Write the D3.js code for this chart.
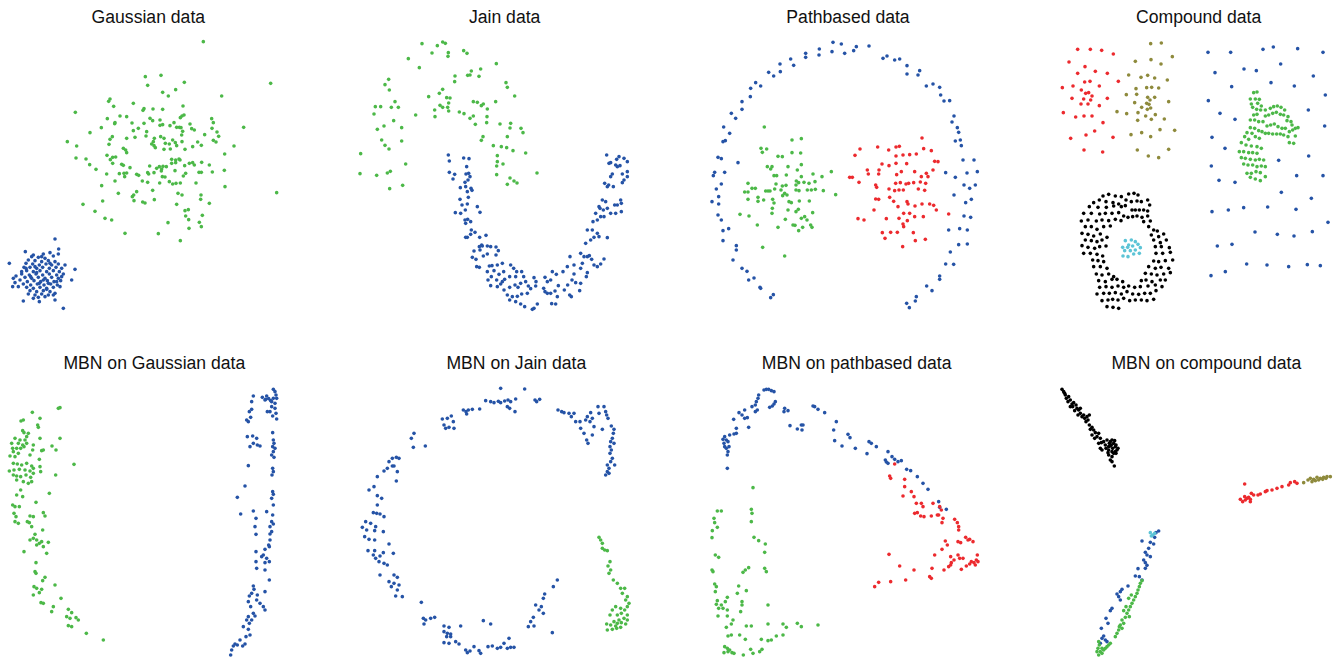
<!DOCTYPE html>
<html>
<head>
<meta charset="utf-8">
<script src="https://cdn.jsdelivr.net/npm/d3@7"></script>
<style>
  body { margin: 0; background: #fff; }
  .title { font-family: "Liberation Sans", Arial, Helvetica, sans-serif; font-size: 17.6px; fill: #111; }
</style>
</head>
<body>
<svg id="chart" width="1336" height="659"></svg>
<script>

// point coordinates are in each panel's own units (0..1002 across, 0..960 down)

var gaussGreen = [[610,125],[812,250],[436,230],[483,226],[553,247],[443,256],[488,277],[527,269],[505,288],[665,288],[330,297],[326,304],[400,310],[226,337],[341,319],[432,326],[429,331],[459,327],[488,328],[549,318],[322,356],[360,348],[380,350],[344,371],[345,368],[396,369],[450,355],[458,362],[480,360],[488,374],[480,376],[522,368],[510,377],[541,353],[546,348],[552,345],[538,382],[530,382],[543,383],[570,372],[575,386],[583,390],[635,356],[640,368],[636,385],[548,394],[545,405],[651,396],[656,409],[731,382],[270,398],[304,383],[400,392],[415,385],[432,370],[440,395],[438,408],[405,412],[380,415],[463,415],[460,425],[455,432],[462,437],[466,443],[482,410],[492,415],[496,430],[508,432],[518,420],[526,428],[530,437],[546,425],[555,448],[578,440],[593,426],[604,436],[614,404],[640,421],[648,426],[702,438],[202,425],[230,438],[330,418],[337,410],[327,433],[370,445],[377,450],[380,458],[492,448],[511,447],[228,474],[258,477],[321,466],[338,472],[347,471],[331,479],[338,490],[365,493],[370,496],[390,503],[269,494],[288,508],[320,522],[358,521],[372,520],[374,530],[380,519],[410,523],[416,526],[443,518],[446,522],[449,498],[462,518],[470,505],[478,500],[485,507],[484,513],[489,499],[499,500],[515,478],[527,480],[527,488],[515,490],[525,512],[537,477],[540,480],[554,497],[557,520],[550,528],[568,490],[578,488],[583,495],[605,487],[628,495],[597,517],[604,517],[637,516],[673,511],[674,462],[427,543],[443,547],[479,549],[487,530],[495,531],[508,545],[518,552],[528,550],[541,549],[588,549],[305,557],[345,543],[401,585],[397,590],[402,602],[410,575],[355,580],[458,571],[463,599],[428,606],[435,609],[534,580],[546,585],[530,613],[603,585],[602,598],[628,610],[675,560],[830,578],[249,613],[308,603],[285,634],[315,655],[335,660],[555,632],[565,629],[557,648],[566,659],[607,646],[598,667],[604,680],[567,685],[504,668],[375,700],[475,701],[541,722]];

var gaussBlue = [[165,717],[176,747],[76,755],[28,790],[225,808],[215,840],[190,925],[70,903],[118,905],[165,900],
  [100,765],[130,762],[150,758],[175,762],[95,770],[115,772],[135,775],[160,768],[85,780],[105,782],[125,785],[145,782],[165,785],[78,790],[98,792],[118,795],[138,792],[155,795],[175,792],[72,802],[90,802],[110,805],[128,802],[148,805],[168,802],[185,805],[80,812],[100,815],[120,812],[140,815],[160,812],[178,815],[65,822],[88,825],[108,822],[128,825],[148,822],[170,825],[190,822],[48,828],[75,832],[95,835],[115,832],[135,835],[155,832],[175,835],[40,835],[60,840],[82,845],[102,842],[122,845],[142,842],[162,845],[182,842],[45,848],[70,852],[92,855],[112,852],[132,855],[152,852],[172,855],[55,860],[80,862],[100,865],[120,862],[140,865],[160,862],[180,860],[38,860],[90,872],[110,875],[130,872],[150,875],[85,882],[105,885],[125,882],[145,885],[165,880],[115,892],[135,890],[100,895],[160,885],[92,830],[110,818],[130,840],[145,850],[118,850],[105,800],[150,790],[170,845],[65,815],[185,830],[195,795],[78,805],[125,770],[140,868]];

var jainGreen = [[264,131],[326,126],[334,130],[310,137],[294,159],[343,158],[342,169],[389,152],[399,160],[223,176],[256,203],[487,191],[440,207],[412,213],[408,225],[401,226],[435,229],[363,228],[362,245],[164,238],[153,254],[166,270],[516,248],[520,262],[542,288],[326,268],[316,280],[284,290],[338,293],[348,294],[344,309],[341,322],[183,305],[124,320],[140,320],[172,322],[193,322],[302,330],[318,316],[326,322],[303,350],[344,333],[376,336],[390,341],[408,355],[418,348],[418,305],[430,307],[442,317],[448,312],[460,327],[485,305],[120,342],[245,345],[179,362],[150,378],[130,388],[203,383],[424,373],[458,368],[459,350],[498,372],[530,370],[528,384],[561,385],[567,398],[520,410],[447,410],[442,421],[143,420],[203,423],[153,436],[165,447],[478,437],[502,440],[518,443],[537,452],[575,459],[80,461],[490,467],[490,485],[507,492],[488,498],[215,492],[78,521],[128,526],[160,519],[169,514],[488,524],[528,534],[540,543],[549,549],[520,553],[609,519],[167,566],[206,556]];

var jainBlue = [[343,465],[346,483],[389,474],[405,476],[398,500],[346,517],[362,523],[396,522],[404,520],[408,530],[357,537],[402,540],[393,547],[379,563],[395,560],[411,565],[400,575],[414,571],[378,598],[403,592],[384,615],[400,612],[364,638],[394,630],[430,620],[438,637],[380,640],[393,660],[401,658],[410,665],[395,670],[412,690],[423,697],[410,703],[400,712],[395,712],[437,712],[456,706],[443,735],[436,740],[445,738],[460,738],[470,740],[486,741],[493,752],[420,753],[438,750],[415,772],[426,778],[448,768],[460,762],[486,765],[428,800],[436,802],[466,798],[474,797],[490,795],[505,790],[460,815],[480,812],[495,823],[509,815],[530,795],[539,805],[548,815],[472,830],[462,840],[488,840],[505,845],[512,838],[527,830],[545,830],[563,815],[569,830],[470,857],[490,860],[500,852],[510,870],[527,862],[543,855],[552,862],[560,850],[575,845],[583,858],[600,833],[606,845],[520,885],[535,890],[550,889],[563,882],[580,880],[590,866],[605,858],[527,900],[545,905],[560,912],[572,920],[595,928],[600,925],[610,912],[633,832],[640,845],[633,875],[640,880],[650,880],[663,873],[670,890],[653,911],[665,912],[629,865],[650,840],[655,815],[667,823],[673,857],[687,815],[691,870],[701,855],[707,885],[712,890],[714,840],[720,822],[725,848],[740,850],[737,872],[700,800],[708,770],[720,795],[740,805],[745,790],[750,770],[760,770],[766,767],[773,778],[780,795],[790,800],[800,792],[810,777],[757,830],[760,818],[740,760],[755,730],[770,720],[780,712],[775,690],[790,700],[795,710],[820,713],[760,690],[777,665],[790,660],[800,650],[810,650],[785,640],[798,625],[808,630],[820,625],[830,640],[805,600],[815,605],[795,620],[842,615],[860,600],[862,610],[862,635],[845,640],[850,615],[820,560],[812,550],[824,555],[838,560],[835,522],[830,530],[845,495],[850,500],[858,497],[865,522],[880,485],[880,530],[870,540],[865,548],[880,515],[870,475],[848,478],[825,490],[818,465],[830,488],[855,470]];

var pathBlue = [[495,127],[520,132],[565,140],[603,138],[454,147],[413,160],[413,172],[453,165],[492,155],[530,160],[557,152],[645,175],[657,168],[680,180],[695,177],[368,177],[377,196],[336,192],[337,215],[302,217],[317,228],[717,197],[717,222],[750,225],[755,212],[263,248],[278,258],[248,265],[247,290],[775,258],[795,252],[815,262],[818,285],[828,303],[845,302],[222,305],[222,328],[190,340],[203,355],[858,348],[852,366],[868,383],[872,397],[167,381],[185,400],[172,422],[165,425],[862,423],[880,437],[877,420],[150,472],[160,476],[210,488],[885,480],[918,480],[140,517],[136,527],[170,517],[833,518],[862,532],[897,519],[928,515],[160,552],[145,567],[888,555],[922,555],[905,565],[152,590],[132,605],[152,612],[858,585],[893,608],[910,598],[150,645],[160,660],[888,648],[908,652],[165,692],[182,686],[842,690],[875,686],[898,690],[165,722],[872,734],[898,732],[205,737],[205,750],[847,756],[195,780],[833,792],[857,793],[222,805],[237,814],[815,828],[815,838],[242,840],[258,834],[776,858],[792,872],[276,862],[278,865],[316,884],[308,893],[745,890],[742,903],[716,910],[724,923]];

var pathGreen = [[289,381],[372,420],[400,416],[279,445],[296,447],[283,457],[372,458],[398,459],[330,469],[343,470],[298,500],[312,500],[308,507],[360,500],[388,510],[400,494],[490,515],[318,527],[326,527],[355,525],[400,530],[435,522],[462,530],[240,550],[252,565],[262,565],[324,552],[320,567],[343,558],[354,556],[385,543],[392,548],[384,555],[408,547],[423,550],[441,545],[230,576],[240,576],[293,573],[300,573],[306,573],[339,570],[350,580],[384,570],[393,572],[418,570],[430,570],[442,568],[466,572],[503,584],[240,598],[270,592],[270,604],[287,600],[314,598],[318,609],[344,587],[357,585],[363,605],[370,608],[394,603],[424,603],[313,625],[312,640],[216,643],[243,648],[360,630],[384,635],[391,628],[434,638],[352,658],[400,655],[410,650],[417,660],[268,675],[330,682],[375,675],[381,676],[392,692],[404,682],[428,675],[432,682],[284,742],[350,768]];

var pathRed = [[762,414],[576,447],[629,441],[662,450],[684,441],[694,439],[767,446],[561,466],[684,468],[705,465],[725,464],[745,462],[790,452],[800,484],[810,485],[642,492],[663,497],[684,490],[716,491],[598,510],[633,510],[700,515],[686,524],[740,515],[795,510],[545,532],[553,532],[601,522],[632,522],[775,520],[780,530],[573,547],[683,550],[697,548],[714,552],[722,550],[737,548],[757,546],[760,530],[773,550],[623,555],[626,562],[663,567],[680,572],[693,570],[706,570],[751,567],[770,571],[623,597],[632,598],[665,592],[677,604],[717,605],[720,612],[741,618],[762,612],[785,612],[797,616],[805,630],[618,630],[690,620],[707,640],[725,640],[740,650],[766,650],[842,642],[570,656],[588,660],[655,656],[693,655],[718,662],[707,680],[705,672],[643,698],[668,697],[688,697],[736,698],[651,715],[742,722],[772,718],[704,740]];

var compRed = [[227,148],[265,148],[299,151],[334,162],[201,186],[249,200],[227,220],[280,214],[316,220],[264,244],[248,246],[349,244],[181,263],[213,258],[238,270],[292,258],[260,278],[251,280],[270,288],[266,300],[210,295],[245,297],[237,312],[258,312],[316,295],[292,317],[184,338],[221,351],[246,348],[270,348],[303,368],[278,393],[252,405],[206,415],[333,412],[246,450],[302,456]];

var compOlive = [[446,131],[478,129],[400,184],[447,179],[511,170],[477,192],[380,225],[417,232],[437,226],[458,234],[496,240],[402,266],[434,263],[449,262],[470,264],[373,284],[404,283],[437,292],[444,300],[458,292],[500,305],[398,308],[434,310],[441,313],[446,324],[419,322],[436,328],[345,335],[374,341],[408,338],[460,344],[431,348],[448,358],[407,361],[487,357],[474,389],[518,391],[387,404],[419,398],[446,410],[406,450],[500,448],[439,468],[470,473]];

var compBlue = [[618,157],[686,157],[783,148],[814,141],[887,146],[963,157],[639,218],[726,207],[763,212],[836,192],[934,228],[689,260],[807,248],[877,258],[970,285],[619,302],[654,340],[699,358],[919,330],[968,378],[630,412],[669,445],[920,468],[628,498],[830,481],[651,541],[699,547],[884,527],[963,527],[838,577],[928,595],[630,635],[679,630],[725,623],[797,621],[882,628],[978,667],[759,696],[826,703],[876,708],[931,695],[646,738],[690,733],[734,792],[795,795],[860,800],[916,794],[955,797],[627,827],[670,815]];

var compGreen = [[755,278],[765,276],[745,297],[760,297],[772,298],[748,312],[767,310],[778,318],[752,322],[764,328],[776,330],[790,330],[805,325],[815,320],[826,318],[837,322],[848,330],[800,345],[790,348],[812,340],[823,337],[835,343],[845,345],[858,350],[855,362],[867,365],[870,375],[880,385],[888,383],[755,345],[765,343],[745,360],[758,360],[770,365],[783,365],[795,378],[806,375],[817,372],[828,380],[840,385],[850,385],[862,395],[872,390],[880,408],[745,383],[758,385],[770,392],[780,395],[790,400],[800,400],[812,402],[824,402],[835,402],[845,405],[858,410],[862,428],[875,430],[735,398],[750,400],[760,410],[772,415],[728,410],[740,418],[718,428],[732,435],[748,438],[765,440],[778,445],[712,455],[725,455],[740,458],[752,458],[765,460],[718,473],[730,475],[745,478],[760,480],[772,478],[785,480],[725,492],[738,495],[752,495],[765,500],[778,498],[790,500],[735,520],[748,520],[762,515],[775,518],[745,532],[760,537],[775,542],[790,530]];

var compBlack = [[303,588],[320,583],[340,588],[358,590],[380,582],[396,580],[408,585],[275,608],[292,600],[312,605],[333,608],[350,612],[372,600],[388,605],[405,603],[418,605],[437,600],[262,620],[288,622],[313,622],[335,618],[358,620],[370,617],[390,630],[400,630],[412,630],[425,630],[437,633],[443,615],[245,640],[268,640],[293,642],[310,640],[330,640],[350,638],[365,648],[378,652],[392,650],[405,648],[420,652],[437,648],[238,663],[258,660],[283,663],[300,660],[320,662],[340,658],[357,662],[425,665],[445,663],[250,680],[268,680],[285,688],[305,680],[325,678],[440,680],[455,690],[466,693],[240,700],[258,703],[275,708],[295,702],[315,712],[448,705],[470,710],[485,702],[250,720],[268,722],[285,725],[300,720],[455,720],[475,728],[493,720],[240,737],[258,742],[278,745],[293,740],[312,738],[460,740],[478,740],[502,743],[245,760],[265,760],[285,763],[302,768],[462,760],[482,760],[505,757],[272,780],[288,782],[305,785],[455,783],[470,785],[490,782],[512,780],[275,800],[295,800],[315,805],[440,800],[460,805],[477,802],[500,805],[283,822],[300,825],[320,822],[335,830],[430,820],[448,822],[465,825],[485,822],[505,818],[290,842],[310,845],[330,838],[345,838],[362,845],[418,842],[432,840],[450,845],[475,840],[490,840],[293,862],[312,860],[330,862],[348,858],[365,862],[380,858],[398,862],[415,860],[438,858],[460,855],[480,860],[285,882],[305,880],[322,880],[340,878],[358,882],[375,875],[392,882],[410,883],[428,880],[445,880],[462,872],[300,902],[318,900],[332,898],[348,900],[365,895],[383,902],[400,900],[418,900],[435,902],[455,898],[315,920],[333,922],[350,925]];

var compCyan = [[370,722],[388,720],[400,725],[362,742],[377,742],[392,738],[408,733],[415,743],[368,752],[385,752],[400,750],[363,768],[378,770],[395,762],[412,760],[380,735]];

var mbnGaussGreen = [[175,205],[180,203],[97,217],[120,235],[70,240],[63,243],[113,255],[115,262],[68,272],[72,278],[85,280],[80,290],[45,295],[60,300],[75,300],[120,295],[180,295],[35,310],[55,310],[68,315],[80,310],[100,315],[156,318],[38,325],[50,325],[62,325],[72,320],[40,335],[55,340],[98,330],[125,332],[130,330],[168,330],[30,348],[45,350],[90,345],[118,358],[40,370],[52,372],[65,375],[80,370],[95,378],[120,380],[222,373],[28,393],[42,390],[58,388],[75,390],[90,393],[100,385],[122,395],[40,405],[50,408],[62,410],[78,405],[92,412],[100,400],[167,405],[50,420],[70,425],[85,430],[95,425],[62,450],[148,460],[50,465],[68,470],[38,495],[45,500],[58,500],[108,487],[42,520],[48,530],[90,528],[100,530],[130,518],[135,528],[45,545],[55,550],[82,545],[88,548],[95,560],[128,570],[105,583],[100,595],[90,600],[110,600],[118,610],[125,605],[145,607],[110,615],[130,620],[72,635],[140,640],[108,668],[105,695],[108,700],[135,712],[128,722],[102,740],[110,745],[125,748],[118,758],[100,765],[165,735],[123,788],[130,790],[183,775],[160,800],[155,815],[205,808],[215,818],[200,830],[210,835],[228,833],[235,840],[205,857],[215,860],[259,880],[310,900]];

var mbnGaussBlue = [[820,148],[825,155],[828,165],[820,175],[815,185],[825,190],[830,175],[760,168],[787,172],[797,178],[806,176],[812,182],[755,185],[795,180],[800,168],[815,200],[825,205],[810,215],[828,220],[755,208],[748,215],[752,232],[740,240],[745,245],[802,215],[818,228],[830,237],[818,278],[820,300],[822,310],[818,320],[825,325],[820,335],[815,345],[822,352],[742,290],[758,288],[770,295],[760,310],[772,315],[780,318],[750,320],[818,385],[820,395],[816,405],[745,377],[735,438],[818,455],[820,463],[815,475],[820,495],[712,472],[760,513],[800,515],[722,522],[768,535],[818,525],[815,545],[820,552],[810,560],[765,560],[815,575],[810,582],[768,583],[810,600],[806,615],[808,620],[795,628],[790,645],[768,635],[785,650],[800,655],[768,665],[795,668],[808,665],[770,685],[795,690],[808,720],[760,738],[762,748],[755,760],[748,768],[772,765],[795,755],[745,785],[752,800],[770,780],[780,790],[790,800],[795,810],[760,820],[765,828],[745,830],[748,850],[755,840],[740,840],[730,860],[745,868],[750,885],[738,890],[720,900],[735,912],[705,912],[700,918],[712,915],[695,930],[692,945],[728,918]];

var mbnJainBlue = [[500,145],[572,147],[455,182],[470,185],[480,188],[493,184],[500,188],[512,183],[522,180],[530,185],[545,177],[520,200],[527,205],[543,215],[603,180],[617,178],[608,185],[388,210],[396,215],[398,222],[403,210],[415,208],[437,207],[352,228],[340,235],[325,237],[358,245],[330,255],[335,265],[345,262],[360,265],[672,210],[683,215],[690,218],[705,220],[720,220],[712,230],[725,245],[738,245],[755,240],[760,230],[770,218],[775,235],[768,245],[780,260],[795,220],[792,200],[810,200],[815,215],[818,225],[822,235],[740,265],[750,280],[758,300],[762,310],[775,285],[805,268],[832,258],[840,268],[838,280],[835,295],[830,305],[840,310],[828,320],[832,330],[828,340],[835,355],[830,365],[820,375],[825,385],[842,375],[820,395],[815,405],[825,400],[240,280],[232,295],[238,322],[274,318],[175,355],[187,352],[195,355],[165,365],[160,385],[175,378],[180,378],[150,393],[190,395],[130,410],[187,423],[120,440],[105,450],[130,467],[143,475],[130,495],[118,518],[128,520],[138,522],[150,530],[95,545],[85,562],[110,550],[125,560],[98,570],[122,572],[148,575],[92,590],[105,598],[122,600],[165,612],[102,632],[122,632],[148,638],[118,645],[125,655],[138,648],[178,640],[135,665],[150,670],[160,675],[138,705],[180,705],[190,712],[165,725],[180,730],[195,735],[172,740],[190,750],[185,768],[205,770],[262,787],[670,720],[658,740],[632,762],[628,775],[605,795],[622,800],[615,810],[628,820],[598,832],[590,845],[583,860],[600,858],[655,878],[268,835],[275,840],[270,852],[290,835],[302,832],[448,842],[470,852],[330,858],[345,862],[330,875],[340,880],[350,882],[380,858],[338,890],[350,890],[330,908],[345,910],[365,905],[375,912],[395,930],[400,938],[408,933],[420,920],[435,932],[440,940],[462,920],[475,918],[490,925],[500,922],[520,925],[530,922],[540,922],[510,910],[525,895]];

var mbnJainGreen = [[795,592],[800,600],[805,610],[805,625],[812,630],[820,632],[828,665],[822,678],[830,690],[825,700],[838,720],[850,730],[860,745],[872,745],[865,760],[880,770],[875,780],[885,790],[880,800],[872,810],[860,805],[845,800],[835,810],[828,825],[850,825],[862,820],[880,825],[870,835],[855,840],[840,845],[850,850],[862,848],[875,852],[880,840],[818,852],[830,855],[845,858],[860,862],[820,870],[835,868],[848,865]];

var mbnPathBlue = [[288,150],[295,148],[302,148],[310,152],[318,155],[272,165],[270,175],[265,185],[262,195],[252,200],[268,210],[262,215],[318,192],[313,198],[305,202],[322,185],[213,218],[230,210],[222,225],[230,235],[238,233],[197,238],[205,265],[242,262],[185,285],[198,282],[205,280],[170,290],[165,298],[175,300],[168,310],[180,305],[170,320],[175,325],[183,320],[180,335],[178,345],[178,385],[350,205],[360,212],[348,215],[435,198],[440,200],[450,208],[470,218],[366,257],[388,267],[400,255],[405,255],[402,270],[505,245],[497,270],[500,302],[540,283],[546,293],[522,318],[562,325],[597,341],[603,305],[610,310],[625,320],[660,335],[652,360],[655,366],[660,370],[672,350],[680,358],[690,365],[700,362],[716,388],[728,392],[748,410],[765,430],[780,448],[812,485],[835,508],[815,502]];

var mbnPathRed = [[680,372],[665,408],[668,415],[710,418],[710,440],[730,455],[705,468],[738,470],[745,490],[760,490],[765,500],[740,520],[748,518],[758,528],[768,530],[790,528],[795,490],[815,500],[820,510],[812,525],[825,535],[822,548],[808,525],[860,538],[868,548],[872,560],[872,570],[893,592],[900,600],[915,605],[905,598],[870,605],[878,608],[832,603],[838,615],[822,628],[800,645],[848,650],[858,660],[870,645],[875,655],[885,655],[910,665],[925,660],[928,645],[930,665],[922,675],[918,668],[905,672],[850,668],[842,680],[828,690],[848,675],[880,688],[895,678],[663,643],[695,678],[738,690],[792,685],[785,710],[790,715],[713,720],[668,725],[632,727],[620,740]];

var mbnPathGreen = [[255,443],[148,513],[160,513],[138,535],[140,548],[148,562],[133,572],[132,593],[250,508],[252,520],[250,545],[258,592],[272,602],[292,612],[290,637],[142,645],[152,652],[132,690],[135,695],[242,683],[232,690],[225,697],[290,685],[295,695],[140,732],[145,740],[142,755],[212,738],[235,752],[208,760],[178,772],[148,782],[145,793],[160,795],[172,785],[222,785],[222,795],[152,805],[165,805],[178,810],[150,828],[178,828],[218,815],[300,795],[195,840],[190,852],[235,858],[250,858],[175,862],[300,852],[345,852],[355,862],[388,850],[400,860],[450,855],[190,885],[215,885],[180,888],[232,898],[280,898],[300,902],[310,900],[325,888],[345,885],[170,920],[178,925],[185,930],[192,938],[180,935],[168,938],[226,945],[248,928],[255,940],[282,928],[275,935],[198,940]];

var mbnCompBlack = [[180,148],[185,155],[190,165],[193,175],[200,170],[205,180],[210,192],[205,200],[215,188],[222,195],[225,205],[218,212],[230,210],[235,205],[235,220],[228,225],[240,230],[248,235],[252,245],[258,240],[262,255],[270,262],[275,270],[265,268],[270,285],[278,295],[285,290],[290,280],[295,295],[298,308],[305,305],[310,315],[320,320],[325,305],[330,300],[335,310],[340,320],[345,330],[348,325],[340,335],[330,335],[320,330],[312,325],[320,345],[330,350],[335,340],[325,360],[330,365],[337,378],[300,330],[295,325],[315,300],[322,310],[338,302],[342,315],[245,225],[255,230],[262,225],[280,278],[290,310],[188,160],[198,185],[212,200],[325,318],[332,325],[318,338],[328,315],[342,340]];

var mbnCompRed = [[728,432],[715,478],[722,485],[730,480],[735,475],[740,472],[745,478],[728,470],[748,460],[755,465],[768,465],[775,462],[790,455],[795,452],[810,450],[825,445],[840,440],[860,435],[865,428],[878,425],[885,430],[745,485]];

var mbnCompOlive = [[905,428],[918,420],[925,415],[935,418],[945,412],[955,415],[965,412],[975,410],[985,410],[930,425],[940,422],[950,420],[962,418],[972,415]];

var mbnCompCyan = [[445,578],[452,585],[458,580],[448,588]];

var mbnCompBlue = [[470,573],[462,578],[458,592],[420,603],[445,607],[455,612],[440,625],[430,637],[435,645],[445,650],[425,660],[430,668],[435,676],[430,685],[408,686],[400,708],[412,710],[420,720],[378,738],[360,748],[355,755],[345,762],[350,770],[355,780],[330,805],[325,812],[312,835],[318,850],[298,865],[305,888],[300,895],[310,900],[315,905],[295,910]];

var mbnCompGreen = [[420,722],[415,730],[412,740],[408,750],[405,760],[400,770],[395,780],[390,790],[385,800],[380,810],[375,820],[382,830],[370,832],[360,840],[365,850],[355,855],[352,860],[360,865],[350,870],[345,880],[340,890],[290,905],[292,915],[288,925],[295,935],[300,940],[290,945],[305,930],[310,925],[315,920],[320,915],[325,910],[300,925],[285,935],[380,775],[388,765],[372,800],[365,812]];

var titles = ["Gaussian data", "Jain data", "Pathbased data", "Compound data",
              "MBN on Gaussian data", "MBN on Jain data", "MBN on pathbased data", "MBN on compound data"];
var titleX = [445, 512, 540, 590, 463, 547, 566, 613];

var colors = { green: "#4cb848", blue: "#2553a6", red: "#ec2a2e", olive: "#8e8a3c", cyan: "#5cc4d6", black: "#000000" };

var panels = [
  [["green", gaussGreen], ["blue", gaussBlue]],
  [["green", jainGreen], ["blue", jainBlue]],
  [["blue", pathBlue], ["green", pathGreen], ["red", pathRed]],
  [["red", compRed], ["olive", compOlive], ["blue", compBlue], ["green", compGreen], ["black", compBlack], ["cyan", compCyan]],
  [["green", mbnGaussGreen], ["blue", mbnGaussBlue]],
  [["blue", mbnJainBlue], ["green", mbnJainGreen]],
  [["blue", mbnPathBlue], ["red", mbnPathRed], ["green", mbnPathGreen]],
  [["black", mbnCompBlack], ["red", mbnCompRed], ["olive", mbnCompOlive], ["blue", mbnCompBlue], ["green", mbnCompGreen], ["cyan", mbnCompCyan]]
];

var svg = d3.select("#chart");
var panel_w = 334, panel_h = 320;

panels.forEach(function(groups, i){
    var col = i % 4, row = Math.floor(i / 4);
    var left = col * panel_w, top = row === 0 ? 0 : 340;

    var x = d3.scaleLinear().domain([0, 1002]).range([left, left + panel_w]);
    var y = d3.scaleLinear().domain([0, 960]).range([top, top + panel_h]);

    var g = svg.append("g");

    g.append("text")
        .attr("class", "title")
        .attr("x", x(titleX[i]))
        .attr("y", y(row === 0 ? 70 : 88))
        .attr("text-anchor", "middle")
        .text(titles[i]);

    groups.forEach(function(grp){
        g.append("g").selectAll("circle")
            .data(grp[1])
            .enter().append("circle")
                .attr("cx", function(d){ return x(d[0]); })
                .attr("cy", function(d){ return y(d[1]); })
                .attr("r", 1.8)
                .attr("fill", colors[grp[0]]);
    });
});

</script>
</body>
</html>
